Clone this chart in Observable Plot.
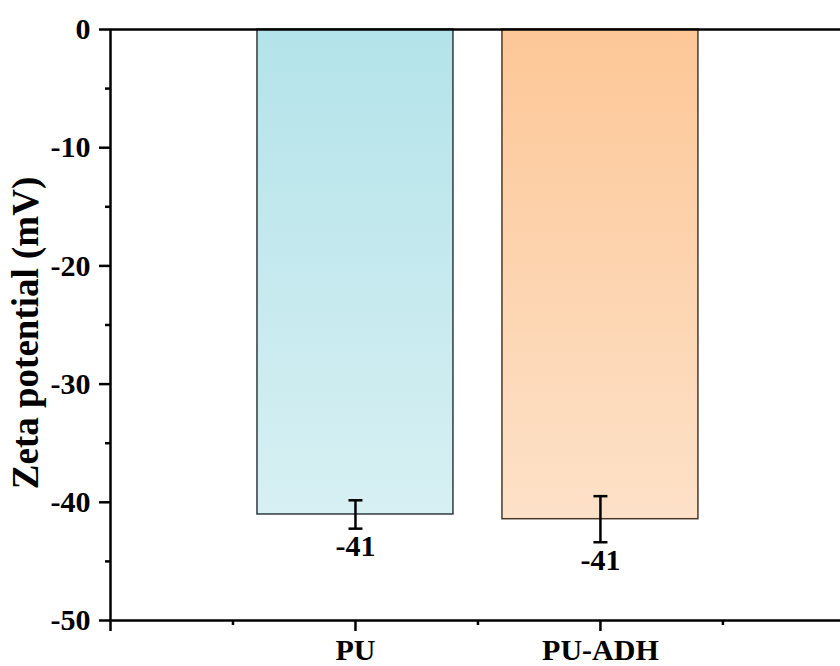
<!DOCTYPE html>
<html><head><meta charset="utf-8">
<script src="https://cdn.jsdelivr.net/npm/d3@7"></script>
<script src="https://cdn.jsdelivr.net/npm/@observablehq/plot@0.6"></script>
<style>body{margin:0;background:#fff} svg text{font-family:"Liberation Serif","Times New Roman",serif !important;font-weight:bold}</style>
</head><body><div id="chart"></div>
<script>
const categories = ["PU", "PU-ADH"];
const values = [-41.03, -41.43];
const errors = [1.2, 1.95];
const labels = ["-41", "-41"];
const gradTop = ["#b3e3ea", "#fdc797"];
const gradBottom = ["#d7f0f3", "#fde1c8"];
const strokes = ["#2f3a3e", "#4a3a2b"];
const yTicks = [0, -10, -20, -30, -40, -50];
const yMinor = [-5, -15, -25, -35, -45];
const xMajor = [0, 1, 2, 3];
const xMinor = [0.5, 1.5, 2.5];
const yTitle = "Zeta potential (mV)";

const data = categories.map((c, i) => ({
  cat: c, pos: i + 1, value: values[i], err: errors[i], label: labels[i],
  fill: `url(#grad${i})`, stroke: strokes[i]
}));

const hline = {draw(ctx, size) { const r = Math.sqrt(size / Math.PI); ctx.moveTo(-r, 0); ctx.lineTo(r, 0); }};

const svg = Plot.plot({
  width: 840, height: 666,
  marginTop: 29, marginBottom: 46, marginLeft: 110, marginRight: 0,
  style: {fontFamily: "Liberation Serif, serif", fontWeight: "bold", fontSize: "30px", color: "black", background: "white"},
  x: {domain: [0, 2.98]},
  y: {domain: [-50, 0]},
  color: {type: "identity"},
  marks: [
    Plot.rectY(data, {x1: d => d.pos - 0.4, x2: d => d.pos + 0.4, y1: 0, y2: "value", fill: "fill", stroke: "stroke", strokeWidth: 1.5}),
    Plot.ruleX(data, {x: "pos", y1: d => d.value - d.err, y2: d => d.value + d.err, stroke: "black", strokeWidth: 2.5}),
    Plot.dot(data, {x: "pos", y: d => d.value + d.err, symbol: hline, r: 7, stroke: "black", strokeWidth: 2.5}),
    Plot.dot(data, {x: "pos", y: d => d.value - d.err, symbol: hline, r: 7, stroke: "black", strokeWidth: 2.5}),
    Plot.text(data, {x: "pos", y: d => d.value - d.err, text: "label", lineAnchor: "top", dy: 6, fontSize: 30, fill: "black"}),
    Plot.ruleY([0], {stroke: "black", strokeWidth: 2.5}),
    Plot.ruleY([-50], {stroke: "black", strokeWidth: 2.5}),
    Plot.ruleX([0], {stroke: "black", strokeWidth: 2.5}),
    Plot.axisY({ticks: yTicks, tickSize: 11, tickPadding: 9, fontSize: 30, label: null, strokeWidth: 2.5, tickFormat: d => String(d)}),
    Plot.axisY({ticks: yMinor, tickSize: 5, tickFormat: () => "", label: null, strokeWidth: 2.5}),
    Plot.axisX({ticks: xMajor, tickSize: 11, tickPadding: 7, fontSize: 30, label: null, strokeWidth: 2.5, tickFormat: d => categories[d - 1] ?? ""}),
    Plot.axisX({ticks: xMinor, tickSize: 5, tickFormat: () => "", label: null, strokeWidth: 2.5}),
    Plot.text([yTitle], {frameAnchor: "left", textAnchor: "middle", rotate: -90, dx: -84, dy: 8, fontSize: 37, lineAnchor: "middle", fill: "black"})
  ]
});

const defs = d3.select(svg).insert("defs", ":first-child");
categories.forEach((c, i) => {
  const g = defs.append("linearGradient").attr("id", `grad${i}`).attr("x1", 0).attr("y1", 0).attr("x2", 0).attr("y2", 1);
  g.append("stop").attr("offset", "0%").attr("stop-color", gradTop[i]);
  g.append("stop").attr("offset", "100%").attr("stop-color", gradBottom[i]);
});

document.getElementById("chart").appendChild(svg);
</script>
</body></html>
